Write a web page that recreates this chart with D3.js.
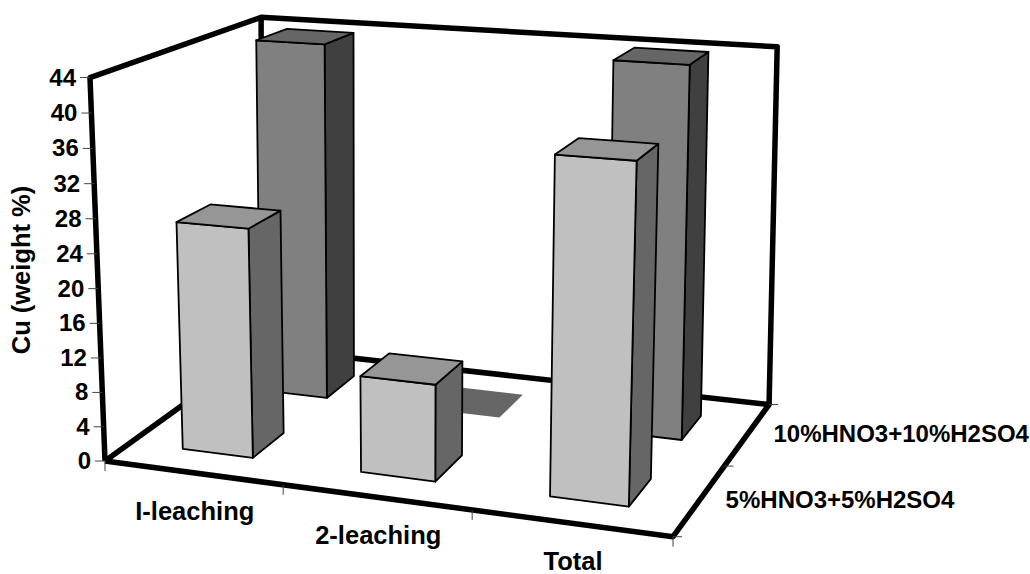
<!DOCTYPE html>
<html>
<head>
<meta charset="utf-8">
<script src="https://cdn.jsdelivr.net/npm/d3@7"></script>
<style>
  html, body { margin: 0; padding: 0; background: #fff; }
  text { font-family: "Liberation Sans", Arial, sans-serif; font-weight: bold; fill: #000; }
</style>
</head>
<body>
<svg id="chart" width="1030" height="574"></svg>
<script>
const categories = ["I-leaching", "2-leaching", "Total"]
const series = ["5%HNO3+5%H2SO4", "10%HNO3+10%H2SO4"]
const front = [26.6, 11, 37.7]
const back = [43.9, 0.1, 44.1]
const yTicks = [0, 4, 8, 12, 16, 20, 24, 28, 32, 36, 40, 44]

const svg = d3.select("#chart")

// unit-cube scales, bars take 40% of each slot
const u = d3.scaleBand().domain(categories).range([0, 1]).paddingInner(0.6).paddingOuter(0.3)
const v = d3.scaleBand().domain(series).range([0, 1]).paddingInner(0.6).paddingOuter(0.3)
const w = d3.scaleLinear().domain([0, 44]).range([0, 1])

// camera fitted to the corners of the box (floor + walls)
function project(a, b, c) {
  const den = 1 - 0.0859 * a + 0.1364 * b - 0.02 * c
  const px = 105 + 510.2 * a + 192.7 * b - 16.8 * c
  const py = 461 + 29.6 * a - 65.6 * b - 385 * c
  return [px / den + (9.5 * b + 16 * a * (1 - b)) * c, py / den + 8 * b * c]
}

const line = d3.line()
const poly = pts => line(pts.map(p => project(p[0], p[1], p[2]))) + "Z"

// box frame
const frame = [
  [[0, 0, 0], [1, 0, 0], [1, 1, 0], [0, 1, 0], [0, 0, 0]],
  [[0, 0, 0], [0, 0, 1], [0, 1, 1], [1, 1, 1], [1, 1, 0]],
  [[0, 1, 0], [0, 1, 1]]
]
svg.selectAll(".frame")
  .data(frame)
  .enter()
  .append("path")
    .attr("class", "frame")
    .attr("fill", "none")
    .attr("stroke", "#000")
    .attr("stroke-width", 5.5)
    .attr("stroke-linejoin", "round")
    .attr("d", d => line(d.map(p => project(p[0], p[1], p[2]))))

// ticks
const tickLine = (x1, y1, x2, y2) => svg.append("line")
  .attr("x1", x1).attr("y1", y1).attr("x2", x2).attr("y2", y2)
  .attr("stroke", "#444").attr("stroke-width", 1)

yTicks.forEach(t => {
  const p = project(0, 0, w(t))
  tickLine(p[0] - 10, p[1], p[0], p[1])
  svg.append("text")
    .attr("x", p[0] - 14)
    .attr("y", p[1] + 8)
    .attr("text-anchor", "end")
    .attr("font-size", 24)
    .text(t)
})

d3.range(categories.length + 1).forEach(i => {
  const p = project(i / categories.length, 0, 0)
  tickLine(p[0], p[1], p[0], p[1] + 10)
})
d3.range(series.length + 1).forEach(i => {
  const p = project(1, i / series.length, 0)
  tickLine(p[0], p[1], p[0] + 9, p[1])
})

// bars, back row first so the front row covers it
const styles = [
  {front: "#c0c0c0", top: "#969696", side: "#666666"},
  {front: "#808080", top: "#666666", side: "#404040"}
]
const rows = [front, back]

d3.range(series.length - 1, -1, -1).forEach(s => {
  const v0 = v(series[s])
  const v1 = v0 + v.bandwidth()
  categories.forEach((cat, i) => {
    const val = rows[s][i]
    const u0 = u(cat)
    const u1 = u0 + u.bandwidth()
    const h = w(val)
    const g = svg.append("g")
      .attr("stroke", "#000")
      .attr("stroke-width", val < 1 ? 0 : 1.8)
      .attr("stroke-linejoin", "round")
    if (val >= 1) {
      g.append("path").attr("fill", styles[s].side)
        .attr("d", poly([[u1, v0, 0], [u1, v1, 0], [u1, v1, h], [u1, v0, h]]))
      g.append("path").attr("fill", styles[s].front)
        .attr("d", poly([[u0, v0, 0], [u1, v0, 0], [u1, v0, h], [u0, v0, h]]))
    }
    g.append("path").attr("fill", styles[s].top)
      .attr("d", poly([[u0, v0, h], [u1, v0, h], [u1, v1, h], [u0, v1, h]]))
  })
})

// labels
categories.forEach(cat => {
  const p = project(u(cat) + u.bandwidth() / 2, 0, 0)
  svg.append("text")
    .attr("x", p[0] + 2)
    .attr("y", p[1] + 47)
    .attr("text-anchor", "middle")
    .attr("font-size", 25.5)
    .text(cat)
})

series.forEach(name => {
  const p = project(1, v(name) + v.bandwidth() / 2, 0)
  svg.append("text")
    .attr("x", p[0] + 26)
    .attr("y", p[1] + 8)
    .attr("font-size", 24)
    .text(name)
})

svg.append("text")
  .attr("transform", "translate(29.5,270)rotate(-90)")
  .attr("text-anchor", "middle")
  .attr("font-size", 25.5)
  .text("Cu (weight %)")
</script>
</body>
</html>
